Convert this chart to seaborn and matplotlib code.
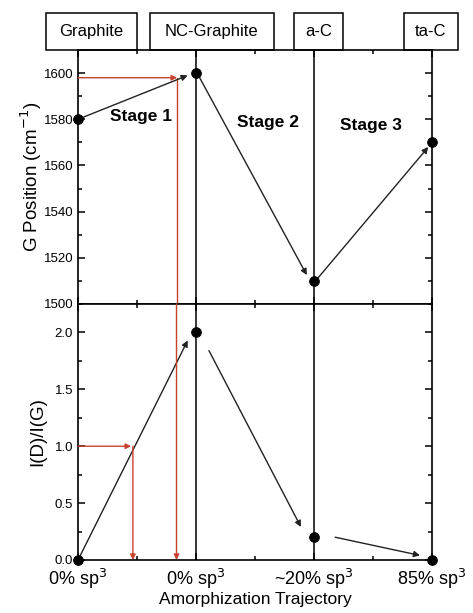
import matplotlib
matplotlib.use("Agg")
import matplotlib.pyplot as plt
import matplotlib.transforms as mtransforms
from matplotlib.patches import Rectangle
import seaborn as sns
import numpy as np
import pandas as pd

# ---- data ----
stage_x = [0, 1, 2, 3]
g_position = [1580, 1600, 1510, 1570]
id_ig = [0.0, 2.0, 0.2, 0.0]
x_ticklabels = ["0% sp$^3$", "0% sp$^3$", "~20% sp$^3$", "85% sp$^3$"]
phase_names = ["Graphite", "NC-Graphite", "a-C", "ta-C"]
phase_left = [-0.27, 0.61, 1.83, 2.76]
phase_right = [0.50, 1.66, 2.25, 3.22]
stage_names = ["Stage 1", "Stage 2", "Stage 3"]
stage_label_x = [0.53, 1.61, 2.48]
stage_label_y = [1581, 1578.5, 1577.5]

sns.set_theme(style="ticks")
plt.rcParams['font.family'] = ['Liberation Sans', 'DejaVu Sans']
plt.rcParams['text.color'] = 'black'
plt.rcParams['axes.labelcolor'] = 'black'
plt.rcParams['xtick.color'] = 'black'
plt.rcParams['ytick.color'] = 'black'

df = pd.DataFrame({"x": stage_x, "g": g_position, "r": id_ig})

fig = plt.figure(figsize=(4.73, 6.13), dpi=100)
ax1 = fig.add_axes([0.165, 0.5041, 0.748, 0.4143])
ax2 = fig.add_axes([0.165, 0.0865, 0.748, 0.4176], sharex=ax1)

for ax in (ax1, ax2):
    ax.axvline(1, color="black", lw=1.1, zorder=1)
    ax.axvline(2, color="black", lw=1.1, zorder=1)

sns.scatterplot(data=df, x="x", y="g", ax=ax1, color="black", s=50,
                edgecolor="black", zorder=5, clip_on=False)
sns.scatterplot(data=df, x="x", y="r", ax=ax2, color="black", s=50,
                edgecolor="black", zorder=5, clip_on=False)

ax1.set_xlim(0, 3)
ax1.set_ylim(1500, 1610)
ax2.set_ylim(0, 2.25)

ax1.set_yticks([1500, 1520, 1540, 1560, 1580, 1600])
ax1.set_yticks(np.arange(1500, 1611, 10), minor=True)
ax2.set_yticks([0.0, 0.5, 1.0, 1.5, 2.0])
ax2.set_yticklabels(["0.0", "0.5", "1.0", "1.5", "2.0"])
ax2.set_yticks(np.arange(0, 2.26, 0.25), minor=True)
ax2.set_xticks(stage_x)
ax2.set_xticks([0.5, 1.5, 2.5], minor=True)
ax2.set_xticklabels(x_ticklabels)
ax1.tick_params(labelbottom=False)

for ax in (ax1, ax2):
    ax.tick_params(which="both", direction="in", top=True, right=True,
                   labelsize=9.5, width=1.1)
    ax.tick_params(which="major", length=5)
    ax.tick_params(which="minor", length=3)
    for s in ax.spines.values():
        s.set_linewidth(1.2)
        s.set_color("black")
ax2.tick_params(axis="x", which="major", labelsize=13, pad=5)

ax1.set_xlabel("")
ax1.set_ylabel("G Position (cm$^{-1}$)", fontsize=13.5, labelpad=0)
ax2.set_ylabel("I(D)/I(G)", fontsize=13.5, labelpad=6)
ax2.set_xlabel("Amorphization Trajectory", fontsize=12.5, labelpad=1)

arrow_k = dict(arrowstyle="-|>", color="#222222", lw=1.0,
               mutation_scale=9, shrinkA=0, shrinkB=0)
# upper arrows
ax1.annotate("", xy=(0.93, 1599), xytext=(0, 1580), arrowprops=arrow_k)
ax1.annotate("", xy=(1.94, 1512.5), xytext=(1.01, 1600), arrowprops=arrow_k)
ax1.annotate("", xy=(2.97, 1568), xytext=(2.03, 1511), arrowprops=arrow_k)
# lower arrows
ax2.annotate("", xy=(0.93, 1.93), xytext=(0, 0), arrowprops=arrow_k)
ax2.annotate("", xy=(1.89, 0.29), xytext=(1.11, 1.84), arrowprops=arrow_k)
ax2.annotate("", xy=(2.9, 0.04), xytext=(2.18, 0.2), arrowprops=arrow_k)

red = "#c8412e"
red_k = dict(arrowstyle="-|>", color=red, lw=1.0, mutation_scale=8,
             shrinkA=0, shrinkB=0)
# upper red: horizontal then vertical through both panels
ax1.annotate("", xy=(0.84, 1598), xytext=(0, 1598), arrowprops=red_k)
ax1.plot([0.835, 0.835], [1598, 1500], color=red, lw=1.0, clip_on=False)
ax2.annotate("", xy=(0.835, 0.0), xytext=(0.835, 2.25), arrowprops=red_k)
# lower red
ax2.annotate("", xy=(0.45, 1.0), xytext=(0, 1.0), arrowprops=red_k)
ax2.annotate("", xy=(0.465, 0.0), xytext=(0.465, 1.0), arrowprops=red_k)

for name, x, y in zip(stage_names, stage_label_x, stage_label_y):
    ax1.text(x, y, name, fontsize=12.5, fontweight="bold", ha="center", va="center")

trans = mtransforms.blended_transform_factory(ax1.transData, ax1.transAxes)
box_h = 0.146
for name, l, r in zip(phase_names, phase_left, phase_right):
    ax1.add_patch(Rectangle((l, 1.0), r - l, box_h, transform=trans,
                            fc="white", ec="black", lw=1.1, clip_on=False))
    ax1.text((l + r) / 2, 1.0 + box_h / 2, name, transform=trans,
             ha="center", va="center", fontsize=12)

fig.savefig("out.png", dpi=100)
